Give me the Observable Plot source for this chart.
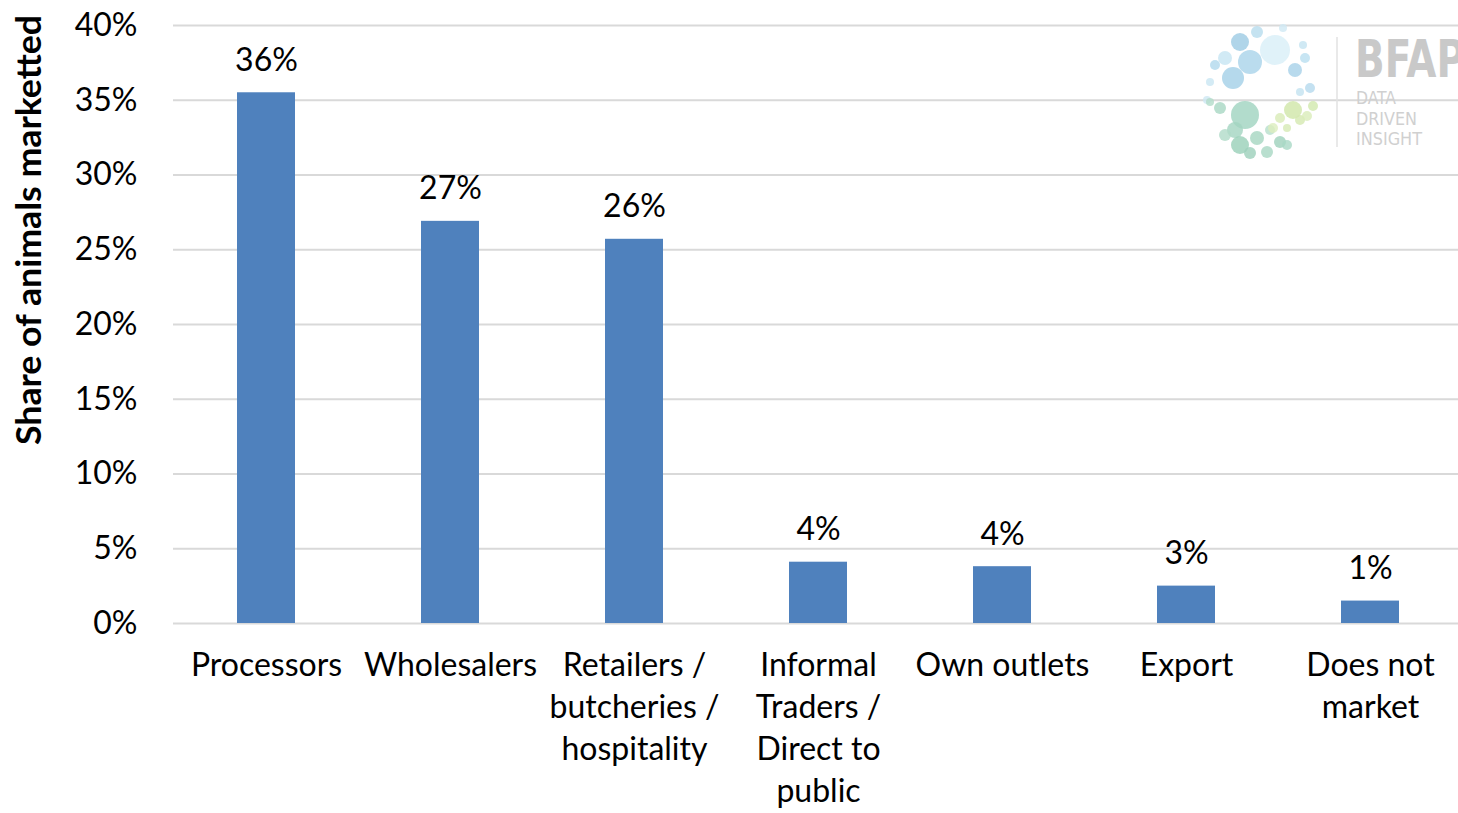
<!DOCTYPE html>
<html>
<head>
<meta charset="utf-8">
<script src="https://cdn.jsdelivr.net/npm/d3@7"></script>
<script src="https://cdn.jsdelivr.net/npm/@observablehq/plot@0.6"></script>
<style>
  html, body { margin: 0; padding: 0; background: #fff; }
  #wrap { position: relative; width: 1458px; height: 813px; overflow: hidden; }
  #chart svg { font-family: Lato, "Open Sans", sans-serif; }
  #overlay { position: absolute; left: 0; top: 0; width: 1458px; height: 813px; pointer-events: none; }
</style>
</head>
<body>
<div id="wrap">
  <div id="chart"></div>
  <svg id="overlay" width="1458" height="813" viewBox="0 0 1458 813"></svg>
</div>
<script>
const categories = ["Processors", "Wholesalers", "Retailers / butcheries / hospitality", "Informal Traders / Direct to public", "Own outlets", "Export", "Does not market"];
const tickLabels = ["Processors", "Wholesalers", "Retailers /\nbutcheries /\nhospitality", "Informal\nTraders /\nDirect to\npublic", "Own outlets", "Export", "Does not\nmarket"];
const values = [35.5, 26.9, 25.7, 4.1, 3.8, 2.5, 1.5];
const valueLabels = ["36%", "27%", "26%", "4%", "4%", "3%", "1%"];
const yTicks = [0, 5, 10, 15, 20, 25, 30, 35, 40];
const yTitle = "Share of animals marketted";

const data = categories.map((c, i) => ({category: c, value: values[i], label: valueLabels[i], tick: tickLabels[i]}));
const tickMap = new Map(data.map(d => [d.category, d.tick]));

const chart = Plot.plot({
  width: 1458,
  height: 813,
  marginLeft: 173,
  marginRight: 0,
  marginTop: 25,
  marginBottom: 190,
  style: {fontFamily: "Lato, 'Open Sans', sans-serif", fontSize: "32px", color: "#000", background: "#fff"},
  x: {domain: categories, range: [173, 1463], paddingInner: 0.684, paddingOuter: 0.342},
  y: {domain: [0, 40]},
  marks: [
    Plot.gridY(yTicks, {stroke: "#d9d9d9", strokeOpacity: 1, strokeWidth: 2}),
    Plot.barY(data, {x: "category", y: "value", fill: "#4f81bd"}),
    Plot.text(data, {x: "category", y: "value", text: "label", dy: -22, lineAnchor: "bottom", fontSize: 32, fill: "#000"}),
    Plot.axisY(yTicks, {tickSize: 0, tickPadding: 36, tickFormat: d => d + "%", fontSize: 32, label: null}),
    Plot.axisX({tickSize: 0, tickPadding: 23, tickFormat: d => tickMap.get(d), fontSize: 32, lineHeight: 1.31, label: null})
  ]
});
document.getElementById("chart").appendChild(chart);

const ov = d3.select("#overlay");
// Y-axis title
ov.append("text")
  .attr("transform", "translate(41,230) rotate(-90)")
  .attr("text-anchor", "middle")
  .attr("font-family", "Lato, 'Open Sans', sans-serif")
  .attr("font-weight", 700)
  .attr("font-size", 35)
  .attr("fill", "#000")
  .attr("textLength", 430)
  .attr("lengthAdjust", "spacingAndGlyphs")
  .text(yTitle);

// Decorative BFAP logo (watermark)
const logo = ov.append("g").attr("transform", "translate(1195,20)");
const blues = [[45,22,9,"#9ccbe3"],[62,12,6,"#b6dcee"],[30,38,7,"#c6e5f2"],[55,42,12,"#a9d3ea"],[80,30,15,"#d8eff7"],[38,58,11,"#a3cfe7"],[20,45,5,"#b0d8ec"],[100,50,7,"#a6d1e8"],[110,38,5,"#b9def0"],[108,25,4,"#c4e3f1"],[88,8,4,"#cfe9f4"],[15,62,4,"#c9e6f3"],[12,80,4,"#cde7f3"],[115,68,5,"#b5daee"],[105,72,4,"#c3e2f0"]];
const greens = [[50,95,14,"#9fd3bf"],[25,88,6,"#a8d7c3"],[15,82,4,"#b3dcc9"],[40,110,8,"#a3d5c0"],[30,115,6,"#b0dbc8"],[45,125,9,"#98cfb8"],[62,118,7,"#a5d6c1"],[55,133,6,"#9ccfba"],[72,132,6,"#a7d7c3"],[85,122,6,"#9dd1bc"],[92,125,5,"#a9d8c5"],[75,110,5,"#b6dfcc"]];
const limes = [[98,90,9,"#cfe6a8"],[85,98,5,"#d8ebb7"],[78,108,5,"#dcedbe"],[105,100,5,"#d4e9b0"],[112,96,5,"#d9ecb9"],[118,86,5,"#d1e8ac"],[92,108,4,"#d6eab4"]];
[...blues, ...greens, ...limes].forEach(([cx, cy, r, c]) => {
  logo.append("circle").attr("cx", cx).attr("cy", cy).attr("r", r).attr("fill", c).attr("fill-opacity", 0.8);
});
logo.append("line").attr("x1", 142).attr("x2", 142).attr("y1", 17).attr("y2", 127).attr("stroke", "#e2e2e2").attr("stroke-width", 1.5);
logo.append("text").attr("x", 160).attr("y", 57).attr("font-family", "'DejaVu Sans Condensed', 'Liberation Sans', sans-serif").attr("font-weight", 700).attr("font-size", 52).attr("fill", "#c9c9c9").attr("textLength", 110).attr("lengthAdjust", "spacingAndGlyphs").text("BFAP");
[["DATA", 40], ["DRIVEN", 61], ["INSIGHT", 66]].forEach(([t, w], i) => {
  logo.append("text").attr("x", 161).attr("y", 84 + i * 20.5).attr("font-family", "'DejaVu Sans Condensed', sans-serif").attr("font-size", 18).attr("fill", "#d0d0d0").attr("textLength", w).attr("lengthAdjust", "spacingAndGlyphs").text(t);
});
</script>
</body>
</html>
